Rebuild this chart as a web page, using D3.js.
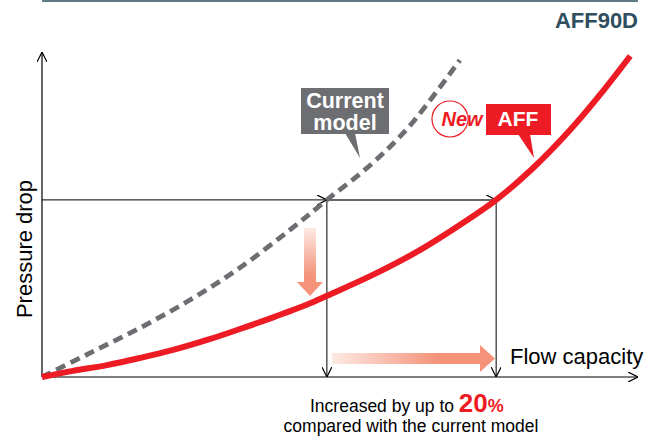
<!DOCTYPE html>
<html>
<head>
<meta charset="utf-8">
<script src="https://cdn.jsdelivr.net/npm/d3@7"></script>
<style>
  body { margin: 0; background: #fff; }
  svg { display: block; font-family: "Liberation Sans", Arial, sans-serif; }
</style>
</head>
<body>
<svg id="chart" width="664" height="440"></svg>
<script>
// flow capacity (x) and pressure drop (y), relative units
const currentFlow = [0, 8.1, 16.4, 24.8, 33.2, 41.6, 47.8, 55.5, 61.7, 70.1];
const currentPressure = [0, 7.5, 15.2, 23.9, 33.9, 45.7, 55, 66.5, 78.0, 98.4];
const affFlow = [0, 5.2, 10.9, 16.4, 22.0, 27.7, 33.2, 38.9, 44.5, 47.8, 55.5, 63.4, 70.1, 76.2, 82.4, 88.6, 93.6, 98.7];
const affPressure = [0, 1.9, 3.7, 5.9, 8.4, 11.5, 14.9, 18.6, 22.5, 25.2, 31.7, 39.4, 47.2, 55, 64.9, 76.7, 87.6, 99.7];

// operating point: same pressure, flow of each model
const refPressure = 55;
const refFlowCurrent = 47.8;
const refFlowAff = 76.2;

const svg = d3.select('#chart');

const x = d3.scaleLinear().domain([0, 100]).range([42, 638]);
const y = d3.scaleLinear().domain([0, 100]).range([377, 55]);

// defs: arrowheads and gradients
const defs = svg.append('defs');
defs.append('marker')
  .attr('id', 'open')
  .attr('viewBox', '0 0 10 10')
  .attr('refX', 10).attr('refY', 5)
  .attr('markerWidth', 10).attr('markerHeight', 10)
  .attr('markerUnits', 'userSpaceOnUse')
  .attr('orient', 'auto')
  .append('path')
  .attr('d', 'M0,0 L10,5 L0,10')
  .attr('fill', 'none')
  .attr('stroke', '#000')
  .attr('stroke-width', 1.2);

const gDown = defs.append('linearGradient').attr('id', 'gDown')
  .attr('x1', 0).attr('y1', 0).attr('x2', 0).attr('y2', 1);
gDown.append('stop').attr('offset', '0%').attr('stop-color', '#fdeae4');
gDown.append('stop').attr('offset', '70%').attr('stop-color', '#f4937a');

const gRight = defs.append('linearGradient').attr('id', 'gRight')
  .attr('x1', 0).attr('y1', 0).attr('x2', 1).attr('y2', 0);
gRight.append('stop').attr('offset', '0%').attr('stop-color', '#fdeae4');
gRight.append('stop').attr('offset', '65%').attr('stop-color', '#f4937a');

// top rule and model name
svg.append('line')
  .attr('x1', 42).attr('x2', 638).attr('y1', 1).attr('y2', 1)
  .attr('stroke', '#5f7a87').attr('stroke-width', 2);
svg.append('text')
  .attr('x', 638).attr('y', 28)
  .attr('text-anchor', 'end')
  .attr('font-size', 22).attr('font-weight', 'bold')
  .attr('fill', '#2f4e5e')
  .text('AFF90D');

// axes
svg.append('line')
  .attr('x1', x(0)).attr('y1', y(0)).attr('x2', 638).attr('y2', y(0))
  .attr('stroke', '#000').attr('stroke-width', 1.2)
  .attr('marker-end', 'url(#open)');
svg.append('line')
  .attr('x1', x(0)).attr('y1', y(0)).attr('x2', x(0)).attr('y2', 52)
  .attr('stroke', '#000').attr('stroke-width', 1.2)
  .attr('marker-end', 'url(#open)');

svg.append('text')
  .attr('transform', `translate(32,249) rotate(-90)`)
  .attr('text-anchor', 'middle')
  .attr('font-size', 22)
  .text('Pressure drop');
svg.append('text')
  .attr('x', 510).attr('y', 364)
  .attr('font-size', 22)
  .text('Flow capacity');

// guide lines at the operating pressure
svg.append('line')
  .attr('x1', x(0)).attr('y1', y(refPressure)).attr('x2', x(refFlowCurrent)).attr('y2', y(refPressure))
  .attr('stroke', '#000').attr('stroke-width', 1)
  .attr('marker-end', 'url(#open)');
svg.append('line')
  .attr('x1', x(refFlowCurrent)).attr('y1', y(refPressure)).attr('x2', x(refFlowAff)).attr('y2', y(refPressure))
  .attr('stroke', '#333').attr('stroke-width', 1.5)
  .attr('marker-end', 'url(#open)');
[refFlowCurrent, refFlowAff].forEach(f => {
  svg.append('line')
    .attr('x1', x(f)).attr('y1', y(refPressure)).attr('x2', x(f)).attr('y2', y(0))
    .attr('stroke', '#000').attr('stroke-width', 1)
    .attr('marker-end', 'url(#open)');
});

// gradient arrows
svg.append('path')
  .attr('d', 'M304,228 L316,228 L316,282 L323,282 L310,296 L297,282 L304,282 Z')
  .attr('fill', 'url(#gDown)');
svg.append('path')
  .attr('d', 'M332,353 L480,353 L480,345 L495,358.5 L480,372 L480,364 L332,364 Z')
  .attr('fill', 'url(#gRight)');

// curves
const line = d3.line()
  .x(d => x(d[0]))
  .y(d => y(d[1]))
  .curve(d3.curveCatmullRom.alpha(0.5));

svg.append('path')
  .datum(d3.zip(currentFlow, currentPressure))
  .attr('d', line)
  .attr('fill', 'none')
  .attr('stroke', '#6d6e71')
  .attr('stroke-width', 4.8)
  .attr('stroke-dasharray', '10,6');

svg.append('path')
  .datum(d3.zip(affFlow, affPressure))
  .attr('d', line)
  .attr('fill', 'none')
  .attr('stroke', '#ed1c24')
  .attr('stroke-width', 6);

// callout: current model
svg.append('path')
  .attr('d', 'M345,133 L355,133 L360,158 Z')
  .attr('fill', '#6d6e71');
svg.append('rect')
  .attr('x', 301).attr('y', 88).attr('width', 88).attr('height', 46)
  .attr('fill', '#6d6e71');
svg.append('text')
  .attr('x', 345).attr('y', 108)
  .attr('text-anchor', 'middle')
  .attr('font-size', 21.5).attr('font-weight', 'bold').attr('fill', '#fff')
  .text('Current');
svg.append('text')
  .attr('x', 345).attr('y', 130)
  .attr('text-anchor', 'middle')
  .attr('font-size', 21.5).attr('font-weight', 'bold').attr('fill', '#fff')
  .text('model');

// callout: new AFF
svg.append('path')
  .attr('d', 'M518,134 L530,134 L534,158 Z')
  .attr('fill', '#ed1c24');
svg.append('rect')
  .attr('x', 486).attr('y', 104).attr('width', 65).attr('height', 31)
  .attr('fill', '#ed1c24');
svg.append('text')
  .attr('x', 518).attr('y', 126)
  .attr('text-anchor', 'middle')
  .attr('font-size', 21).attr('font-weight', 'bold').attr('fill', '#fff')
  .text('AFF');
svg.append('circle')
  .attr('cx', 450).attr('cy', 119).attr('r', 18)
  .attr('fill', 'none').attr('stroke', '#ed1c24').attr('stroke-width', 1.2);
svg.append('text')
  .attr('x', 462).attr('y', 126)
  .attr('text-anchor', 'middle')
  .attr('font-size', 20).attr('font-weight', 'bold').attr('font-style', 'italic')
  .attr('fill', '#ed1c24')
  .attr('stroke', '#fff').attr('stroke-width', 0.8).attr('paint-order', 'stroke')
  .text('New');

// bottom note
const note = svg.append('text')
  .attr('x', 310).attr('y', 412)
  .attr('font-size', 17.5);
note.append('tspan').text('Increased by up to ');
note.append('tspan')
  .attr('font-size', 26).attr('font-weight', 'bold').attr('fill', '#ed1c24')
  .text('20');
note.append('tspan')
  .attr('font-size', 18).attr('font-weight', 'bold').attr('fill', '#ed1c24')
  .text('%');
svg.append('text')
  .attr('x', 411).attr('y', 432)
  .attr('text-anchor', 'middle')
  .attr('font-size', 17.5)
  .text('compared with the current model');
</script>
</body>
</html>
